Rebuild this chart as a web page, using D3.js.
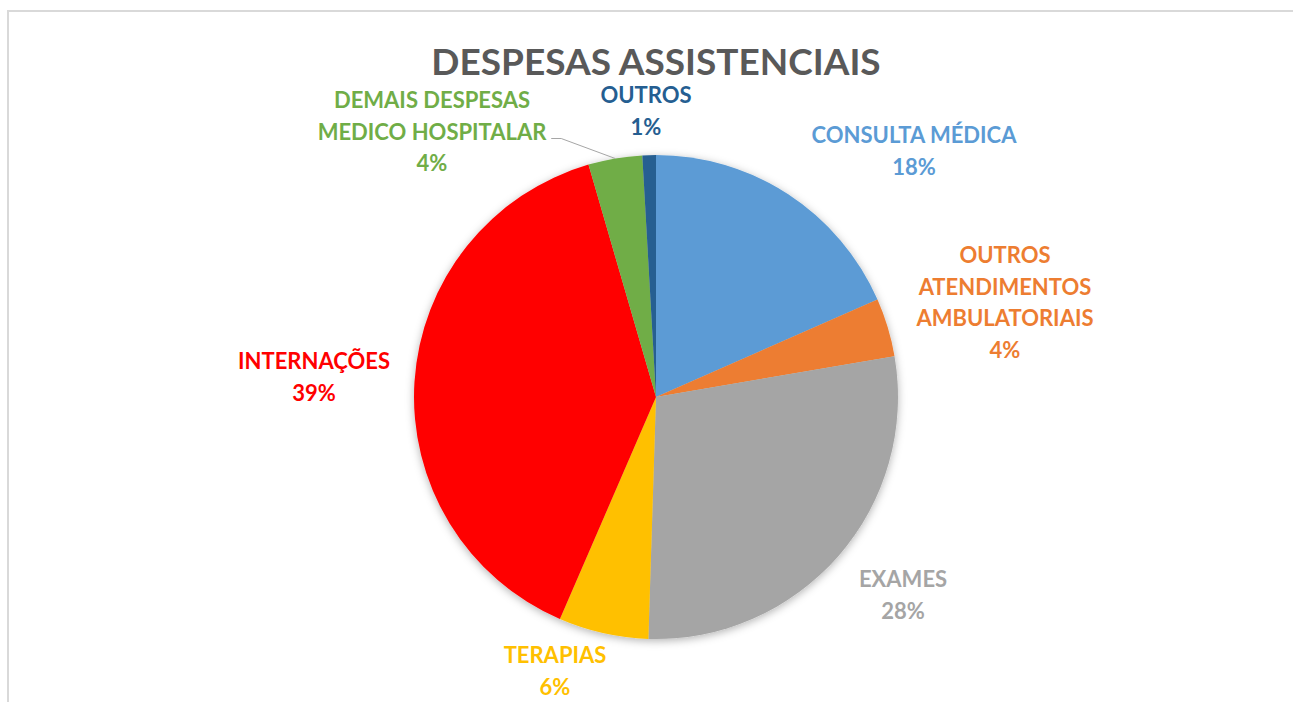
<!DOCTYPE html>
<html>
<head>
<meta charset="utf-8">
<script src="https://cdn.jsdelivr.net/npm/d3@7"></script>
<style>
    body { margin: 0; background: #fff; }
    svg { display: block; }
    text { font-family: Lato, "Open Sans", sans-serif; font-weight: bold; }
</style>
</head>
<body>
<div id="chart"></div>
<script>
// data
var categories = ["CONSULTA MÉDICA", "OUTROS ATENDIMENTOS AMBULATORIAIS", "EXAMES", "TERAPIAS",
    "INTERNAÇÕES", "DEMAIS DESPESAS MEDICO HOSPITALAR", "OUTROS"];
var values = [18.4, 3.9, 28.2, 6.0, 39.0, 3.6, 0.9];
var labelLines = [["CONSULTA MÉDICA"], ["OUTROS", "ATENDIMENTOS", "AMBULATORIAIS"], ["EXAMES"], ["TERAPIAS"],
    ["INTERNAÇÕES"], ["DEMAIS DESPESAS", "MEDICO HOSPITALAR"], ["OUTROS"]];
var colors = ["#5B9BD5", "#ED7D31", "#A5A5A5", "#FFC000", "#FF0000", "#70AD47", "#255E91"];

// layout
var width = 1293, height = 702;
var cx = 656, cy = 397, radius = 242;
var lineH = 31.5;
// label anchor (center x, first baseline) relative to pie center
var labelPos = [[258, -254], [349, -134], [247, 190], [-101, 266], [-342, -28], [-224, -289], [-10, -294]];

var svg = d3.select('#chart')
    .append('svg')
    .attr('width', width)
    .attr('height', height);

var defs = svg.append('defs');
var shadow = defs.append('filter').attr('id', 'shadow')
    .attr('x', '-20%').attr('y', '-20%').attr('width', '140%').attr('height', '140%');
shadow.append('feDropShadow')
    .attr('dx', 0).attr('dy', 2).attr('stdDeviation', 4)
    .attr('flood-color', '#000').attr('flood-opacity', 0.3);

// chart area frame (left and top edges visible)
svg.append('path')
    .attr('d', 'M8,' + height + 'V11H' + width)
    .attr('fill', 'none')
    .attr('stroke', '#D9D9D9')
    .attr('stroke-width', 2);

svg.append('text')
    .attr('x', cx)
    .attr('y', 75)
    .attr('text-anchor', 'middle')
    .attr('fill', '#595959')
    .style('font-size', '37px')
    .text('DESPESAS ASSISTENCIAIS');

var total = d3.sum(values);
var pieData = d3.pie().sort(null).value(d => d)(values);
var arcGenerator = d3.arc().innerRadius(0).outerRadius(radius);

var chart = svg.append('g')
    .attr('transform', 'translate(' + cx + ',' + cy + ')');

chart.append('g')
    .attr('filter', 'url(#shadow)')
    .selectAll('path')
    .data(pieData)
    .enter()
    .append('path')
    .attr('d', arcGenerator)
    .attr('fill', (d) => colors[d.index]);

var labels = chart.selectAll('.lbl')
    .data(pieData)
    .enter()
    .append('text')
    .attr('class', 'lbl')
    .attr('text-anchor', 'middle')
    .attr('fill', (d) => colors[d.index])
    .style('font-size', '22px');

labels.each(function (d) {
    var t = d3.select(this);
    var pos = labelPos[d.index];
    var lines = labelLines[d.index].concat([Math.round(d.value / total * 100) + '%']);
    lines.forEach(function (l, i) {
        t.append('tspan')
            .attr('x', pos[0])
            .attr('y', pos[1] + i * lineH)
            .text(l);
    });
});

// leader line for the small green slice
var demais = pieData[5];
var mid = (demais.startAngle + demais.endAngle) / 2;
var end = [radius * Math.sin(mid), -radius * Math.cos(mid)];
var lbl = labels.filter(d => d.index === 5).node().getBBox();
var start = [lbl.x + lbl.width + 4, labelPos[5][1] + lineH - 1];
chart.append('path')
    .attr('d', 'M' + start[0] + ',' + start[1] + 'h10L' + end[0] + ',' + end[1])
    .attr('fill', 'none')
    .attr('stroke', '#A6A6A6')
    .attr('stroke-width', 1);
</script>
</body>
</html>
